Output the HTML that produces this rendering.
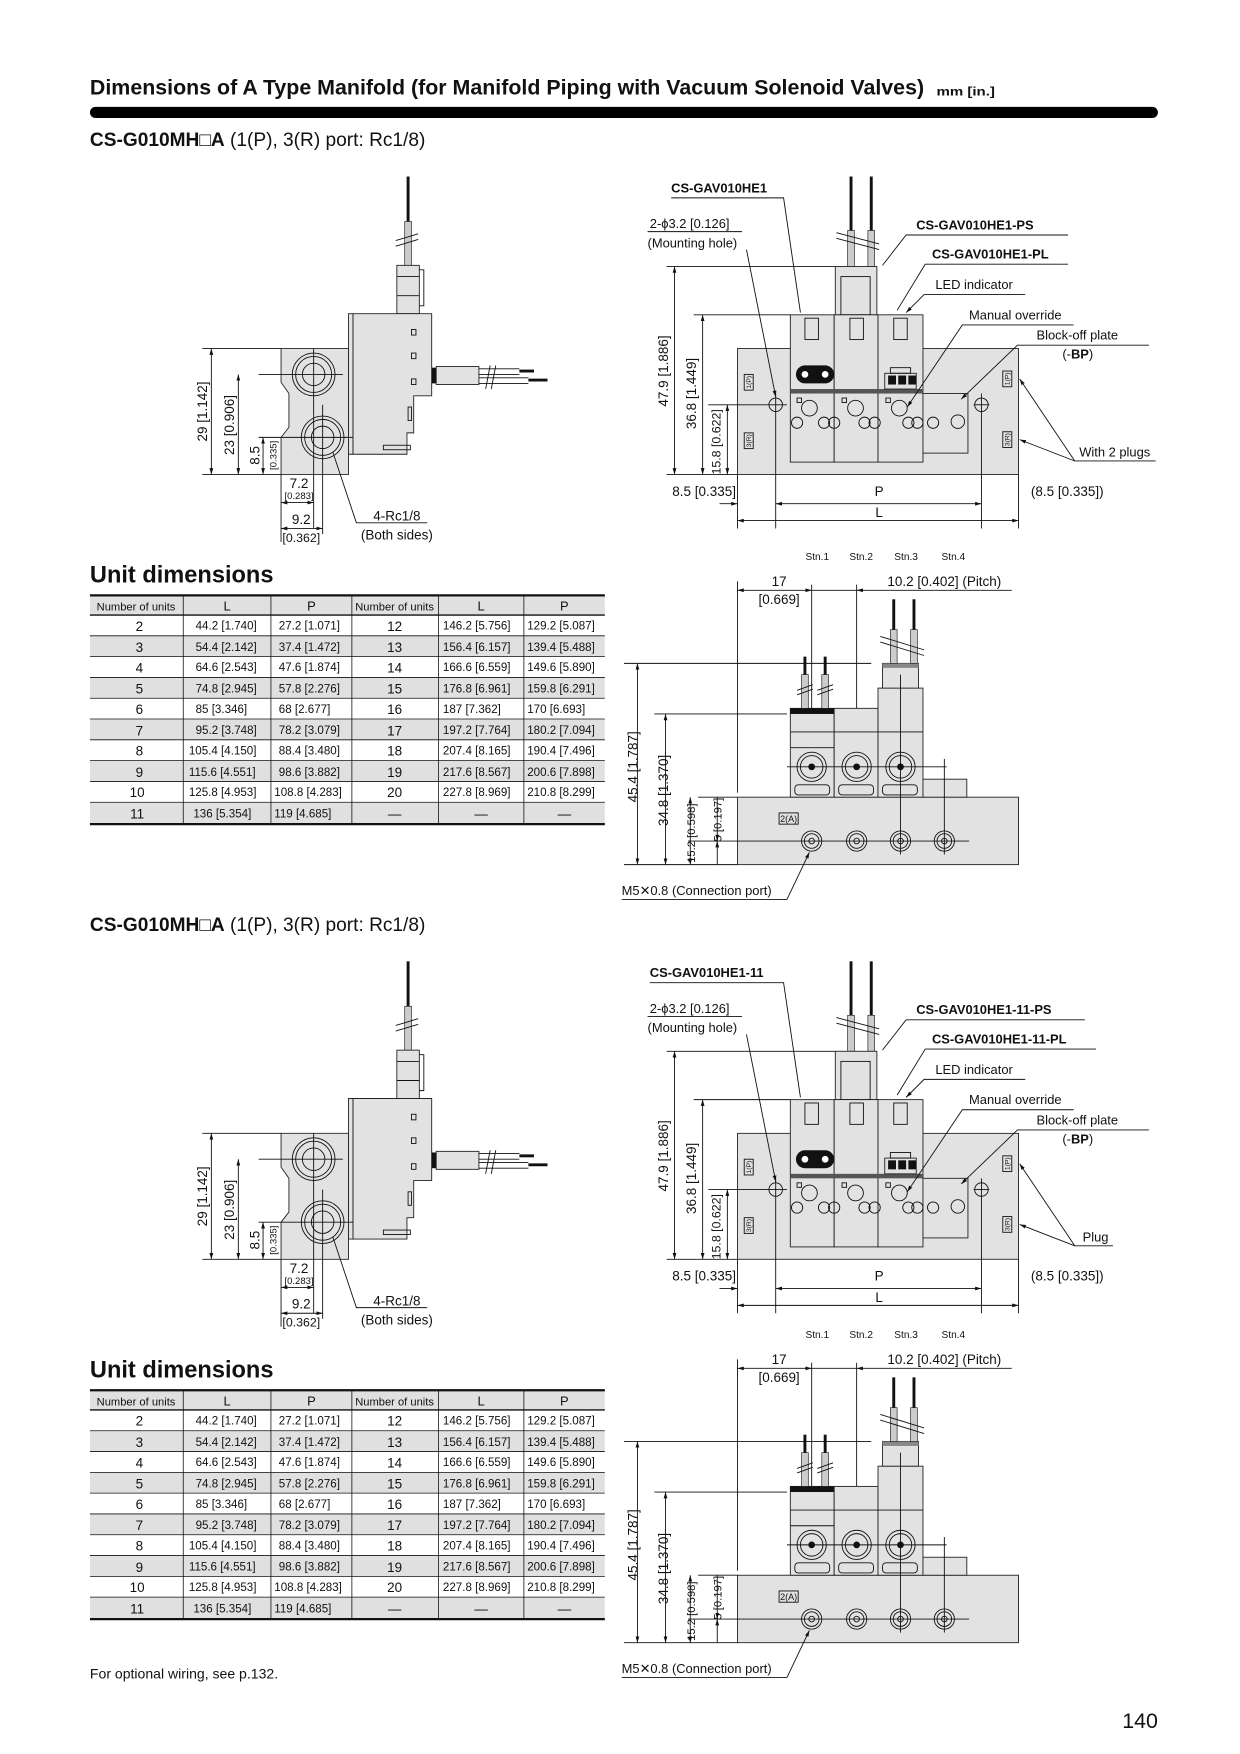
<!DOCTYPE html>
<html><head><meta charset="utf-8"><style>
html,body{margin:0;padding:0;background:#fff}
svg{display:block}
text{font-family:"Liberation Sans",sans-serif;fill:#111}
.b{font-weight:bold}
.ln{stroke:#111;stroke-width:0.8;fill:none}
.f{fill:#e2e2e2;stroke:#222;stroke-width:0.8}
.th{stroke:#111;stroke-width:2.6}
.gw{fill:#ccc;stroke:#222;stroke-width:0.6}
.tv text{font-size:10.3px}
</style></head><body>
<svg width="1240" height="1754" viewBox="0 0 1103 1560" preserveAspectRatio="none" xmlns="http://www.w3.org/2000/svg">
<defs>
<marker id="a" viewBox="0 0 10 10" refX="10" refY="5" markerWidth="7" markerHeight="7" orient="auto-start-reverse"><path d="M0 2 L10 5 L0 8 Z" fill="#111"/></marker>
</defs>

<text x="80" y="84" font-size="19" class="b" textLength="742" lengthAdjust="spacingAndGlyphs">Dimensions of A Type Manifold (for Manifold Piping with Vacuum Solenoid Valves)</text>
<text x="833" y="85" font-size="11" class="b" textLength="52" lengthAdjust="spacingAndGlyphs">mm [in.]</text>
<rect x="80" y="95" width="950" height="10" rx="5" fill="#000"/>

<g id="U">
<text x="80" y="130" font-size="17"><tspan class="b">CS-G010MH</tspan><tspan>□</tspan><tspan class="b">A</tspan> (1(P), 3(R) port: Rc1/8)</text>
<g>
<line x1="363" y1="157" x2="363" y2="197" class="th"/>
<rect x="360" y="197" width="6" height="40" class="gw"/>
<line x1="352" y1="214" x2="372" y2="208" class="ln"/><line x1="352" y1="219" x2="372" y2="213" class="ln"/>
<rect x="353" y="236" width="20" height="43" class="f"/>
<line x1="353" y1="246" x2="373" y2="246" class="ln"/><line x1="353" y1="263" x2="373" y2="263" class="ln"/>
<path d="M373 240 H377 V272 H373" class="ln"/>
<path d="M310 279 H384 V352 H368 V385 H362 V404 H310 Z" class="f"/>
<line x1="314" y1="279" x2="314" y2="404" class="ln"/>
<rect x="366" y="293" width="4" height="5" class="ln"/><rect x="366" y="314" width="4" height="5" class="ln"/><rect x="366" y="337" width="4" height="5" class="ln"/>
<rect x="363" y="362" width="3" height="12" class="ln"/>
<rect x="341" y="396" width="24" height="4" class="ln"/>
<path d="M250 310 H310 V422 H250 V389 L257 380 V350 L250 340 Z" class="f"/>
<circle cx="279" cy="333" r="19" class="ln"/><circle cx="279" cy="333" r="16" class="ln"/><circle cx="279" cy="333" r="10" class="ln"/>
<circle cx="287" cy="389" r="19" class="ln"/><circle cx="287" cy="389" r="16" class="ln"/><circle cx="287" cy="389" r="10" class="ln"/>
<line x1="279" y1="310" x2="279" y2="470" class="ln"/><line x1="287" y1="360" x2="287" y2="475" class="ln"/>
<line x1="230" y1="333" x2="305" y2="333" class="ln"/><line x1="230" y1="389" x2="314" y2="389" class="ln"/>
<rect x="384" y="327" width="4" height="14" fill="#111"/>
<rect x="388" y="326" width="38" height="16" class="f"/>
<line x1="426" y1="328" x2="462" y2="328" class="ln"/><line x1="426" y1="333" x2="462" y2="333" class="ln"/>
<line x1="426" y1="336" x2="470" y2="336" class="ln"/><line x1="426" y1="341" x2="470" y2="341" class="ln"/>
<line x1="462" y1="330" x2="475" y2="330" class="th"/><line x1="470" y1="338" x2="487" y2="338" class="th"/>
<line x1="432" y1="346" x2="436" y2="325" class="ln"/><line x1="437" y1="346" x2="441" y2="325" class="ln"/>
<line x1="180" y1="310" x2="250" y2="310" class="ln"/>
<line x1="180" y1="422" x2="250" y2="422" class="ln"/>
<line x1="188" y1="310" x2="188" y2="422" class="ln" marker-start="url(#a)" marker-end="url(#a)"/>
<line x1="212" y1="333" x2="212" y2="422" class="ln" marker-start="url(#a)" marker-end="url(#a)"/>
<line x1="234" y1="389" x2="234" y2="422" class="ln" marker-start="url(#a)" marker-end="url(#a)"/>
<text transform="translate(184,366) rotate(-90)" font-size="12" text-anchor="middle">29 [1.142]</text>
<text transform="translate(208,378) rotate(-90)" font-size="12" text-anchor="middle">23 [0.906]</text>
<text transform="translate(231,405) rotate(-90)" font-size="12" text-anchor="middle">8.5</text>
<text transform="translate(246,405) rotate(-90)" font-size="8.5" text-anchor="middle">[0.335]</text>
<line x1="250" y1="422" x2="250" y2="482" class="ln"/>
<line x1="250" y1="447" x2="279" y2="447" class="ln" marker-start="url(#a)" marker-end="url(#a)"/>
<line x1="250" y1="470" x2="287" y2="470" class="ln" marker-start="url(#a)" marker-end="url(#a)"/>
<text x="266" y="434" font-size="12" text-anchor="middle">7.2</text>
<text x="266" y="444" font-size="8.5" text-anchor="middle">[0.283]</text>
<text x="268" y="466" font-size="12" text-anchor="middle">9.2</text>
<text x="268" y="482" font-size="11" text-anchor="middle">[0.362]</text>
<polyline points="296,402 317,465 380,465" class="ln"/>
<text x="353" y="463" font-size="12" text-anchor="middle">4-Rc1/8</text>
<text x="353" y="480" font-size="12" text-anchor="middle">(Both sides)</text>
</g>
<g>
<line x1="757" y1="157" x2="757" y2="205" class="th"/><line x1="775" y1="157" x2="775" y2="205" class="th"/>
<rect x="754" y="205" width="6" height="32" class="gw"/><rect x="772" y="205" width="6" height="32" class="gw"/>
<line x1="744" y1="207" x2="782" y2="217" class="ln"/><line x1="744" y1="212" x2="782" y2="222" class="ln"/>
<rect x="656" y="310" width="250" height="112" class="f"/>
<rect x="743" y="237" width="37" height="43" class="f"/>
<rect x="748" y="246" width="26" height="34" class="ln"/>
<rect x="703" y="280" width="39" height="131" class="f"/>
<rect x="742" y="280" width="39" height="131" class="f"/>
<rect x="781" y="280" width="40" height="131" class="f"/>
<rect x="716" y="283" width="12" height="19" class="ln"/><rect x="756" y="283" width="12" height="19" class="ln"/><rect x="795" y="283" width="12" height="19" class="ln"/>
<rect x="703" y="346" width="118" height="4" fill="#555"/>
<rect x="708" y="325" width="34" height="16" rx="8" fill="#111"/>
<circle cx="716" cy="333" r="3" fill="#fff"/><circle cx="734" cy="333" r="3" fill="#fff"/>
<rect x="787" y="332" width="28" height="14" class="f"/>
<rect x="792" y="327" width="18" height="5" class="ln"/>
<rect x="790" y="334" width="7" height="8" fill="#111"/><rect x="799" y="334" width="7" height="8" fill="#111"/><rect x="808" y="334" width="7" height="8" fill="#111"/>
<rect x="821" y="350" width="40" height="53" class="f"/>
<g class="ln">
<circle cx="720" cy="363" r="7"/><circle cx="761" cy="363" r="7"/><circle cx="800" cy="363" r="7"/>
<circle cx="709" cy="376" r="5"/><circle cx="733" cy="376" r="5"/><circle cx="742" cy="376" r="5"/><circle cx="769" cy="376" r="5"/><circle cx="778" cy="376" r="5"/><circle cx="808" cy="376" r="5"/><circle cx="816" cy="376" r="5"/><circle cx="830" cy="376" r="5"/><circle cx="852" cy="375" r="6"/>
</g>
<rect x="709" y="354" width="4" height="4" class="ln"/><rect x="749" y="354" width="4" height="4" class="ln"/><rect x="788" y="354" width="4" height="4" class="ln"/>
<circle cx="690" cy="360" r="6" class="ln"/><circle cx="873" cy="360" r="6" class="ln"/>
<line x1="690" y1="350" x2="690" y2="470" class="ln"/><line x1="873" y1="350" x2="873" y2="470" class="ln"/>
<line x1="630" y1="360" x2="700" y2="360" class="ln"/><line x1="866" y1="360" x2="880" y2="360" class="ln"/>
<rect x="662" y="333" width="8" height="14" class="ln"/><text transform="translate(668,340) rotate(-90)" font-size="6" text-anchor="middle">1(P)</text>
<rect x="662" y="385" width="8" height="14" class="ln"/><text transform="translate(668,392) rotate(-90)" font-size="6" text-anchor="middle">3(R)</text>
<rect x="892" y="330" width="8" height="14" class="ln"/><text transform="translate(898,337) rotate(-90)" font-size="6" text-anchor="middle">1(P)</text>
<rect x="892" y="384" width="8" height="14" class="ln"/><text transform="translate(898,391) rotate(-90)" font-size="6" text-anchor="middle">3(R)</text>
<line x1="593" y1="237" x2="743" y2="237" class="ln"/>
<line x1="617" y1="280" x2="703" y2="280" class="ln"/>
<line x1="593" y1="422" x2="656" y2="422" class="ln"/>
<line x1="600" y1="237" x2="600" y2="422" class="ln" marker-start="url(#a)" marker-end="url(#a)"/>
<line x1="625" y1="280" x2="625" y2="422" class="ln" marker-start="url(#a)" marker-end="url(#a)"/>
<line x1="647" y1="360" x2="647" y2="422" class="ln" marker-start="url(#a)" marker-end="url(#a)"/>
<text transform="translate(594,330) rotate(-90)" font-size="12" text-anchor="middle">47.9 [1.886]</text>
<text transform="translate(619,350) rotate(-90)" font-size="12" text-anchor="middle">36.8 [1.449]</text>
<text transform="translate(641,393) rotate(-90)" font-size="11" text-anchor="middle">15.8 [0.622]</text>
<line x1="656" y1="422" x2="656" y2="470" class="ln"/><line x1="906" y1="422" x2="906" y2="470" class="ln"/>
<line x1="640" y1="448" x2="656" y2="448" class="ln" marker-end="url(#a)"/>
<line x1="690" y1="448" x2="873" y2="448" class="ln" marker-start="url(#a)" marker-end="url(#a)"/>
<line x1="656" y1="463" x2="906" y2="463" class="ln" marker-start="url(#a)" marker-end="url(#a)"/>
<text x="598" y="441" font-size="12">8.5 [0.335]</text>
<text x="782" y="441" font-size="12" text-anchor="middle">P</text>
<text x="917" y="441" font-size="12">(8.5 [0.335])</text>
<text x="782" y="460" font-size="12" text-anchor="middle">L</text>
<text x="597" y="171" font-size="11.5" class="b">CS-GAV010HE1</text>
<polyline points="597,176 697,176 712,278" class="ln"/>
<text x="578" y="203" font-size="11.5">2-ϕ3.2 [0.126]</text>
<text x="576" y="220" font-size="11.5">(Mounting hole)</text>
<line x1="576" y1="206" x2="660" y2="206" class="ln"/>
<line x1="664" y1="222" x2="690" y2="353" class="ln" marker-end="url(#a)"/>
<text x="815" y="204" font-size="11.5" class="b">CS-GAV010HE1-PS</text>
<polyline points="950,209 806,209 785,236" class="ln"/>
<text x="829" y="230" font-size="11.5" class="b">CS-GAV010HE1-PL</text>
<polyline points="950,235 823,235 798,276" class="ln"/>
<text x="832" y="257" font-size="11.5">LED indicator</text>
<polyline points="912,262 822,262 806,278" class="ln" marker-end="url(#a)"/>
<text x="862" y="284" font-size="11.5">Manual override</text>
<polyline points="955,289 856,289 807,362" class="ln" marker-end="url(#a)"/>
<text x="922" y="302" font-size="11.5">Block-off plate</text>
<text x="945" y="319" font-size="11.5">(-<tspan class="b">BP</tspan>)</text>
<polyline points="1022,307 905,307 855,355" class="ln" marker-end="url(#a)"/>
<text x="960" y="406" font-size="11.5">With 2 plugs</text>
<line x1="956" y1="410" x2="1028" y2="410" class="ln"/>
<line x1="956" y1="410" x2="907" y2="337" class="ln" marker-end="url(#a)"/>
<line x1="956" y1="410" x2="907" y2="391" class="ln" marker-end="url(#a)"/>
</g>
<g>
<text x="727" y="498" font-size="9" text-anchor="middle">Stn.1</text>
<text x="766" y="498" font-size="9" text-anchor="middle">Stn.2</text>
<text x="806" y="498" font-size="9" text-anchor="middle">Stn.3</text>
<text x="848" y="498" font-size="9" text-anchor="middle">Stn.4</text>
<text x="693" y="521" font-size="12" text-anchor="middle">17</text>
<text x="693" y="537" font-size="12" text-anchor="middle">[0.669]</text>
<text x="840" y="521" font-size="12" text-anchor="middle">10.2 [0.402] (Pitch)</text>
<line x1="656" y1="525" x2="722" y2="525" class="ln" marker-start="url(#a)" marker-end="url(#a)"/>
<line x1="722" y1="525" x2="762" y2="525" class="ln"/>
<line x1="762" y1="525" x2="900" y2="525" class="ln" marker-start="url(#a)"/>
<line x1="656" y1="517" x2="656" y2="705" class="ln"/>
<line x1="722" y1="520" x2="722" y2="760" class="ln"/>
<line x1="762" y1="520" x2="762" y2="760" class="ln"/>
<rect x="656" y="709" width="250" height="60" class="f"/>
<rect x="703" y="630" width="39" height="79" class="f"/>
<rect x="703" y="630" width="39" height="5" fill="#111"/>
<rect x="742" y="630" width="39" height="79" class="f"/>
<rect x="781" y="612" width="40" height="97" class="f"/>
<rect x="785" y="590" width="32" height="22" class="f"/>
<rect x="785" y="590" width="32" height="4" fill="#888"/>
<line x1="703" y1="651" x2="821" y2="651" class="ln"/>
<line x1="703" y1="665" x2="742" y2="665" class="ln"/>
<rect x="821" y="693" width="39" height="16" class="f"/>
<line x1="716" y1="584" x2="716" y2="600" class="th"/><line x1="734" y1="584" x2="734" y2="600" class="th"/>
<rect x="713" y="600" width="6" height="30" class="gw"/><rect x="731" y="600" width="6" height="30" class="gw"/>
<line x1="709" y1="614" x2="723" y2="609" class="ln"/><line x1="709" y1="618" x2="723" y2="613" class="ln"/>
<line x1="727" y1="614" x2="741" y2="609" class="ln"/><line x1="727" y1="618" x2="741" y2="613" class="ln"/>
<line x1="795" y1="533" x2="795" y2="560" class="th"/><line x1="813" y1="533" x2="813" y2="560" class="th"/>
<rect x="792" y="560" width="6" height="30" class="gw"/><rect x="810" y="560" width="6" height="30" class="gw"/>
<line x1="783" y1="566" x2="822" y2="578" class="ln"/><line x1="783" y1="571" x2="822" y2="583" class="ln"/>
<g class="ln">
<circle cx="722" cy="682" r="13"/><circle cx="722" cy="682" r="10"/>
<circle cx="762" cy="682" r="13"/><circle cx="762" cy="682" r="10"/>
<circle cx="801" cy="682" r="13"/><circle cx="801" cy="682" r="10"/>
<rect x="707" y="698" width="31" height="9" rx="3"/><rect x="746" y="698" width="31" height="9" rx="3"/><rect x="785" y="698" width="31" height="9" rx="3"/>
<circle cx="722" cy="748" r="9"/><circle cx="722" cy="748" r="6.5"/><circle cx="722" cy="748" r="2.5"/>
<circle cx="762" cy="748" r="9"/><circle cx="762" cy="748" r="6.5"/><circle cx="762" cy="748" r="2.5"/>
<circle cx="801" cy="748" r="9"/><circle cx="801" cy="748" r="6.5"/><circle cx="801" cy="748" r="2.5"/>
<circle cx="840" cy="748" r="9"/><circle cx="840" cy="748" r="6.5"/><circle cx="840" cy="748" r="2.5"/>
</g>
<circle cx="722" cy="682" r="3" fill="#111"/><circle cx="762" cy="682" r="3" fill="#111"/><circle cx="801" cy="682" r="3" fill="#111"/>
<line x1="700" y1="682" x2="842" y2="682" class="ln"/>
<line x1="801" y1="600" x2="801" y2="760" class="ln"/><line x1="840" y1="675" x2="840" y2="760" class="ln"/>
<line x1="612" y1="748" x2="862" y2="748" class="ln"/>
<rect x="693" y="723" width="17" height="10" class="ln"/><text x="701.5" y="731" font-size="8" text-anchor="middle">2(A)</text>
<line x1="555" y1="590" x2="775" y2="590" class="ln"/>
<line x1="582" y1="635" x2="700" y2="635" class="ln"/>
<line x1="555" y1="769" x2="656" y2="769" class="ln"/>
<line x1="621" y1="709" x2="656" y2="709" class="ln"/>
<line x1="567" y1="590" x2="567" y2="769" class="ln" marker-start="url(#a)" marker-end="url(#a)"/>
<line x1="592" y1="635" x2="592" y2="769" class="ln" marker-start="url(#a)" marker-end="url(#a)"/>
<line x1="614" y1="709" x2="614" y2="769" class="ln" marker-start="url(#a)" marker-end="url(#a)"/>
<line x1="638" y1="709" x2="638" y2="748" class="ln" marker-end="url(#a)"/>
<line x1="638" y1="769" x2="638" y2="748" class="ln" marker-end="url(#a)"/>
<text transform="translate(567,682) rotate(-90)" font-size="12" text-anchor="middle">45.4 [1.787]</text>
<text transform="translate(594,703) rotate(-90)" font-size="12" text-anchor="middle">34.8 [1.370]</text>
<text transform="translate(618,741) rotate(-90)" font-size="10" text-anchor="middle">15.2 [0.598]</text>
<text transform="translate(642,729) rotate(-90)" font-size="10" text-anchor="middle">5 [0.197]</text>
<text x="553" y="796" font-size="11.5">M5✕0.8 (Connection port)</text>
<line x1="553" y1="800" x2="700" y2="800" class="ln"/>
<line x1="700" y1="800" x2="720" y2="758" class="ln" marker-end="url(#a)"/>
</g>
</g>

<g id="T1">
<text x="80" y="518" font-size="21" class="b">Unit dimensions</text>
<rect x="80" y="530" width="458" height="17" fill="#e0e0e0"/>
<rect x="80" y="565.5" width="458" height="18.5" fill="#e0e0e0"/>
<rect x="80" y="602.5" width="458" height="18.5" fill="#e0e0e0"/>
<rect x="80" y="639.5" width="458" height="18.5" fill="#e0e0e0"/>
<rect x="80" y="676.5" width="458" height="18.5" fill="#e0e0e0"/>
<rect x="80" y="713.5" width="458" height="18.5" fill="#e0e0e0"/>
<line x1="80" y1="529.5" x2="538" y2="529.5" stroke="#111" stroke-width="2"/>
<line x1="80" y1="733" x2="538" y2="733" stroke="#111" stroke-width="2"/>
<g stroke="#111" stroke-width="0.7">
<line x1="80" y1="547" x2="538" y2="547" stroke-width="1.2"/>
<line x1="80" y1="565.5" x2="538" y2="565.5"/><line x1="80" y1="584" x2="538" y2="584"/><line x1="80" y1="602.5" x2="538" y2="602.5"/><line x1="80" y1="621" x2="538" y2="621"/><line x1="80" y1="639.5" x2="538" y2="639.5"/><line x1="80" y1="658" x2="538" y2="658"/><line x1="80" y1="676.5" x2="538" y2="676.5"/><line x1="80" y1="695" x2="538" y2="695"/><line x1="80" y1="713.5" x2="538" y2="713.5"/>
<line x1="163" y1="530" x2="163" y2="733"/><line x1="241" y1="530" x2="241" y2="733"/><line x1="313" y1="530" x2="313" y2="733"/><line x1="390" y1="530" x2="390" y2="733"/><line x1="466" y1="530" x2="466" y2="733"/>
</g>
<g font-size="11.5">
<text x="121" y="543" font-size="10" text-anchor="middle" textLength="70" lengthAdjust="spacingAndGlyphs">Number of units</text><text x="202" y="543" text-anchor="middle">L</text><text x="277" y="543" text-anchor="middle">P</text><text x="351" y="543" font-size="10" text-anchor="middle" textLength="70" lengthAdjust="spacingAndGlyphs">Number of units</text><text x="428" y="543" text-anchor="middle">L</text><text x="502" y="543" text-anchor="middle">P</text>
</g>
<g text-anchor="middle" font-size="12">
<text x="124" y="561">2</text><text x="124" y="580">3</text><text x="124" y="598">4</text><text x="124" y="617">5</text><text x="124" y="635">6</text><text x="124" y="654">7</text><text x="124" y="672">8</text><text x="124" y="691">9</text><text x="122" y="709">10</text><text x="122" y="728">11</text>
<text x="351" y="561">12</text><text x="351" y="580">13</text><text x="351" y="598">14</text><text x="351" y="617">15</text><text x="351" y="635">16</text><text x="351" y="654">17</text><text x="351" y="672">18</text><text x="351" y="691">19</text><text x="351" y="709">20</text><text x="351" y="728">—</text>
<text x="428" y="728">—</text><text x="502" y="728">—</text>
</g>
<g class="tv">
<text x="174" y="560">44.2 [1.740]</text><text x="174" y="579">54.4 [2.142]</text><text x="174" y="597">64.6 [2.543]</text><text x="174" y="616">74.8 [2.945]</text><text x="174" y="634">85 [3.346]</text><text x="174" y="653">95.2 [3.748]</text><text x="168" y="671">105.4 [4.150]</text><text x="168" y="690">115.6 [4.551]</text><text x="168" y="708">125.8 [4.953]</text><text x="172" y="727">136 [5.354]</text>
<text x="248" y="560">27.2 [1.071]</text><text x="248" y="579">37.4 [1.472]</text><text x="248" y="597">47.6 [1.874]</text><text x="248" y="616">57.8 [2.276]</text><text x="248" y="634">68 [2.677]</text><text x="248" y="653">78.2 [3.079]</text><text x="248" y="671">88.4 [3.480]</text><text x="248" y="690">98.6 [3.882]</text><text x="244" y="708">108.8 [4.283]</text><text x="244" y="727">119 [4.685]</text>
<text x="394" y="560">146.2 [5.756]</text><text x="394" y="579">156.4 [6.157]</text><text x="394" y="597">166.6 [6.559]</text><text x="394" y="616">176.8 [6.961]</text><text x="394" y="634">187 [7.362]</text><text x="394" y="653">197.2 [7.764]</text><text x="394" y="671">207.4 [8.165]</text><text x="394" y="690">217.6 [8.567]</text><text x="394" y="708">227.8 [8.969]</text>
<text x="469" y="560">129.2 [5.087]</text><text x="469" y="579">139.4 [5.488]</text><text x="469" y="597">149.6 [5.890]</text><text x="469" y="616">159.8 [6.291]</text><text x="469" y="634">170 [6.693]</text><text x="469" y="653">180.2 [7.094]</text><text x="469" y="671">190.4 [7.496]</text><text x="469" y="690">200.6 [7.898]</text><text x="469" y="708">210.8 [8.299]</text>
</g>
</g>

<!-- LOWER -->
<g transform="translate(0,698)">
<text x="80" y="130" font-size="17"><tspan class="b">CS-G010MH</tspan><tspan>□</tspan><tspan class="b">A</tspan> (1(P), 3(R) port: Rc1/8)</text>
<g>
<line x1="363" y1="157" x2="363" y2="197" class="th"/>
<rect x="360" y="197" width="6" height="40" class="gw"/>
<line x1="352" y1="214" x2="372" y2="208" class="ln"/><line x1="352" y1="219" x2="372" y2="213" class="ln"/>
<rect x="353" y="236" width="20" height="43" class="f"/>
<line x1="353" y1="246" x2="373" y2="246" class="ln"/><line x1="353" y1="263" x2="373" y2="263" class="ln"/>
<path d="M373 240 H377 V272 H373" class="ln"/>
<path d="M310 279 H384 V352 H368 V385 H362 V404 H310 Z" class="f"/>
<line x1="314" y1="279" x2="314" y2="404" class="ln"/>
<rect x="366" y="293" width="4" height="5" class="ln"/><rect x="366" y="314" width="4" height="5" class="ln"/><rect x="366" y="337" width="4" height="5" class="ln"/>
<rect x="363" y="362" width="3" height="12" class="ln"/>
<rect x="341" y="396" width="24" height="4" class="ln"/>
<path d="M250 310 H310 V422 H250 V389 L257 380 V350 L250 340 Z" class="f"/>
<circle cx="279" cy="333" r="19" class="ln"/><circle cx="279" cy="333" r="16" class="ln"/><circle cx="279" cy="333" r="10" class="ln"/>
<circle cx="287" cy="389" r="19" class="ln"/><circle cx="287" cy="389" r="16" class="ln"/><circle cx="287" cy="389" r="10" class="ln"/>
<line x1="279" y1="310" x2="279" y2="470" class="ln"/><line x1="287" y1="360" x2="287" y2="475" class="ln"/>
<line x1="230" y1="333" x2="305" y2="333" class="ln"/><line x1="230" y1="389" x2="314" y2="389" class="ln"/>
<rect x="384" y="327" width="4" height="14" fill="#111"/>
<rect x="388" y="326" width="38" height="16" class="f"/>
<line x1="426" y1="328" x2="462" y2="328" class="ln"/><line x1="426" y1="333" x2="462" y2="333" class="ln"/>
<line x1="426" y1="336" x2="470" y2="336" class="ln"/><line x1="426" y1="341" x2="470" y2="341" class="ln"/>
<line x1="462" y1="330" x2="475" y2="330" class="th"/><line x1="470" y1="338" x2="487" y2="338" class="th"/>
<line x1="432" y1="346" x2="436" y2="325" class="ln"/><line x1="437" y1="346" x2="441" y2="325" class="ln"/>
<line x1="180" y1="310" x2="250" y2="310" class="ln"/>
<line x1="180" y1="422" x2="250" y2="422" class="ln"/>
<line x1="188" y1="310" x2="188" y2="422" class="ln" marker-start="url(#a)" marker-end="url(#a)"/>
<line x1="212" y1="333" x2="212" y2="422" class="ln" marker-start="url(#a)" marker-end="url(#a)"/>
<line x1="234" y1="389" x2="234" y2="422" class="ln" marker-start="url(#a)" marker-end="url(#a)"/>
<text transform="translate(184,366) rotate(-90)" font-size="12" text-anchor="middle">29 [1.142]</text>
<text transform="translate(208,378) rotate(-90)" font-size="12" text-anchor="middle">23 [0.906]</text>
<text transform="translate(231,405) rotate(-90)" font-size="12" text-anchor="middle">8.5</text>
<text transform="translate(246,405) rotate(-90)" font-size="8.5" text-anchor="middle">[0.335]</text>
<line x1="250" y1="422" x2="250" y2="482" class="ln"/>
<line x1="250" y1="447" x2="279" y2="447" class="ln" marker-start="url(#a)" marker-end="url(#a)"/>
<line x1="250" y1="470" x2="287" y2="470" class="ln" marker-start="url(#a)" marker-end="url(#a)"/>
<text x="266" y="434" font-size="12" text-anchor="middle">7.2</text>
<text x="266" y="444" font-size="8.5" text-anchor="middle">[0.283]</text>
<text x="268" y="466" font-size="12" text-anchor="middle">9.2</text>
<text x="268" y="482" font-size="11" text-anchor="middle">[0.362]</text>
<polyline points="296,402 317,465 380,465" class="ln"/>
<text x="353" y="463" font-size="12" text-anchor="middle">4-Rc1/8</text>
<text x="353" y="480" font-size="12" text-anchor="middle">(Both sides)</text>
</g>
<g>
<line x1="757" y1="157" x2="757" y2="205" class="th"/><line x1="775" y1="157" x2="775" y2="205" class="th"/>
<rect x="754" y="205" width="6" height="32" class="gw"/><rect x="772" y="205" width="6" height="32" class="gw"/>
<line x1="744" y1="207" x2="782" y2="217" class="ln"/><line x1="744" y1="212" x2="782" y2="222" class="ln"/>
<rect x="656" y="310" width="250" height="112" class="f"/>
<rect x="743" y="237" width="37" height="43" class="f"/>
<rect x="748" y="246" width="26" height="34" class="ln"/>
<rect x="703" y="280" width="39" height="131" class="f"/>
<rect x="742" y="280" width="39" height="131" class="f"/>
<rect x="781" y="280" width="40" height="131" class="f"/>
<rect x="716" y="283" width="12" height="19" class="ln"/><rect x="756" y="283" width="12" height="19" class="ln"/><rect x="795" y="283" width="12" height="19" class="ln"/>
<rect x="703" y="346" width="118" height="4" fill="#555"/>
<rect x="708" y="325" width="34" height="16" rx="8" fill="#111"/>
<circle cx="716" cy="333" r="3" fill="#fff"/><circle cx="734" cy="333" r="3" fill="#fff"/>
<rect x="787" y="332" width="28" height="14" class="f"/>
<rect x="792" y="327" width="18" height="5" class="ln"/>
<rect x="790" y="334" width="7" height="8" fill="#111"/><rect x="799" y="334" width="7" height="8" fill="#111"/><rect x="808" y="334" width="7" height="8" fill="#111"/>
<rect x="821" y="350" width="40" height="53" class="f"/>
<g class="ln">
<circle cx="720" cy="363" r="7"/><circle cx="761" cy="363" r="7"/><circle cx="800" cy="363" r="7"/>
<circle cx="709" cy="376" r="5"/><circle cx="733" cy="376" r="5"/><circle cx="742" cy="376" r="5"/><circle cx="769" cy="376" r="5"/><circle cx="778" cy="376" r="5"/><circle cx="808" cy="376" r="5"/><circle cx="816" cy="376" r="5"/><circle cx="830" cy="376" r="5"/><circle cx="852" cy="375" r="6"/>
</g>
<rect x="709" y="354" width="4" height="4" class="ln"/><rect x="749" y="354" width="4" height="4" class="ln"/><rect x="788" y="354" width="4" height="4" class="ln"/>
<circle cx="690" cy="360" r="6" class="ln"/><circle cx="873" cy="360" r="6" class="ln"/>
<line x1="690" y1="350" x2="690" y2="470" class="ln"/><line x1="873" y1="350" x2="873" y2="470" class="ln"/>
<line x1="630" y1="360" x2="700" y2="360" class="ln"/><line x1="866" y1="360" x2="880" y2="360" class="ln"/>
<rect x="662" y="333" width="8" height="14" class="ln"/><text transform="translate(668,340) rotate(-90)" font-size="6" text-anchor="middle">1(P)</text>
<rect x="662" y="385" width="8" height="14" class="ln"/><text transform="translate(668,392) rotate(-90)" font-size="6" text-anchor="middle">3(R)</text>
<rect x="892" y="330" width="8" height="14" class="ln"/><text transform="translate(898,337) rotate(-90)" font-size="6" text-anchor="middle">1(P)</text>
<rect x="892" y="384" width="8" height="14" class="ln"/><text transform="translate(898,391) rotate(-90)" font-size="6" text-anchor="middle">3(R)</text>
<line x1="593" y1="237" x2="743" y2="237" class="ln"/>
<line x1="617" y1="280" x2="703" y2="280" class="ln"/>
<line x1="593" y1="422" x2="656" y2="422" class="ln"/>
<line x1="600" y1="237" x2="600" y2="422" class="ln" marker-start="url(#a)" marker-end="url(#a)"/>
<line x1="625" y1="280" x2="625" y2="422" class="ln" marker-start="url(#a)" marker-end="url(#a)"/>
<line x1="647" y1="360" x2="647" y2="422" class="ln" marker-start="url(#a)" marker-end="url(#a)"/>
<text transform="translate(594,330) rotate(-90)" font-size="12" text-anchor="middle">47.9 [1.886]</text>
<text transform="translate(619,350) rotate(-90)" font-size="12" text-anchor="middle">36.8 [1.449]</text>
<text transform="translate(641,393) rotate(-90)" font-size="11" text-anchor="middle">15.8 [0.622]</text>
<line x1="656" y1="422" x2="656" y2="470" class="ln"/><line x1="906" y1="422" x2="906" y2="470" class="ln"/>
<line x1="640" y1="448" x2="656" y2="448" class="ln" marker-end="url(#a)"/>
<line x1="690" y1="448" x2="873" y2="448" class="ln" marker-start="url(#a)" marker-end="url(#a)"/>
<line x1="656" y1="463" x2="906" y2="463" class="ln" marker-start="url(#a)" marker-end="url(#a)"/>
<text x="598" y="441" font-size="12">8.5 [0.335]</text>
<text x="782" y="441" font-size="12" text-anchor="middle">P</text>
<text x="917" y="441" font-size="12">(8.5 [0.335])</text>
<text x="782" y="460" font-size="12" text-anchor="middle">L</text>
<text x="578" y="171" font-size="11.5" class="b">CS-GAV010HE1-11</text>
<polyline points="578,176 697,176 712,278" class="ln"/>
<text x="578" y="203" font-size="11.5">2-ϕ3.2 [0.126]</text>
<text x="576" y="220" font-size="11.5">(Mounting hole)</text>
<line x1="576" y1="206" x2="660" y2="206" class="ln"/>
<line x1="664" y1="222" x2="690" y2="353" class="ln" marker-end="url(#a)"/>
<text x="815" y="204" font-size="11.5" class="b">CS-GAV010HE1-11-PS</text>
<polyline points="965,209 806,209 785,236" class="ln"/>
<text x="829" y="230" font-size="11.5" class="b">CS-GAV010HE1-11-PL</text>
<polyline points="975,235 823,235 798,276" class="ln"/>
<text x="832" y="257" font-size="11.5">LED indicator</text>
<polyline points="912,262 822,262 806,278" class="ln" marker-end="url(#a)"/>
<text x="862" y="284" font-size="11.5">Manual override</text>
<polyline points="955,289 856,289 807,362" class="ln" marker-end="url(#a)"/>
<text x="922" y="302" font-size="11.5">Block-off plate</text>
<text x="945" y="319" font-size="11.5">(-<tspan class="b">BP</tspan>)</text>
<polyline points="1022,307 905,307 855,355" class="ln" marker-end="url(#a)"/>
<text x="963" y="406" font-size="11.5">Plug</text>
<line x1="956" y1="410" x2="990" y2="410" class="ln"/>
<line x1="956" y1="410" x2="907" y2="337" class="ln" marker-end="url(#a)"/>
<line x1="956" y1="410" x2="907" y2="391" class="ln" marker-end="url(#a)"/>
</g>
</g>

<g transform="translate(0,692)">
<text x="727" y="498" font-size="9" text-anchor="middle">Stn.1</text>
<text x="766" y="498" font-size="9" text-anchor="middle">Stn.2</text>
<text x="806" y="498" font-size="9" text-anchor="middle">Stn.3</text>
<text x="848" y="498" font-size="9" text-anchor="middle">Stn.4</text>
<text x="693" y="521" font-size="12" text-anchor="middle">17</text>
<text x="693" y="537" font-size="12" text-anchor="middle">[0.669]</text>
<text x="840" y="521" font-size="12" text-anchor="middle">10.2 [0.402] (Pitch)</text>
<line x1="656" y1="525" x2="722" y2="525" class="ln" marker-start="url(#a)" marker-end="url(#a)"/>
<line x1="722" y1="525" x2="762" y2="525" class="ln"/>
<line x1="762" y1="525" x2="900" y2="525" class="ln" marker-start="url(#a)"/>
<line x1="656" y1="517" x2="656" y2="705" class="ln"/>
<line x1="722" y1="520" x2="722" y2="760" class="ln"/>
<line x1="762" y1="520" x2="762" y2="760" class="ln"/>
<rect x="656" y="709" width="250" height="60" class="f"/>
<rect x="703" y="630" width="39" height="79" class="f"/>
<rect x="703" y="630" width="39" height="5" fill="#111"/>
<rect x="742" y="630" width="39" height="79" class="f"/>
<rect x="781" y="612" width="40" height="97" class="f"/>
<rect x="785" y="590" width="32" height="22" class="f"/>
<rect x="785" y="590" width="32" height="4" fill="#888"/>
<line x1="703" y1="651" x2="821" y2="651" class="ln"/>
<line x1="703" y1="665" x2="742" y2="665" class="ln"/>
<rect x="821" y="693" width="39" height="16" class="f"/>
<line x1="716" y1="584" x2="716" y2="600" class="th"/><line x1="734" y1="584" x2="734" y2="600" class="th"/>
<rect x="713" y="600" width="6" height="30" class="gw"/><rect x="731" y="600" width="6" height="30" class="gw"/>
<line x1="709" y1="614" x2="723" y2="609" class="ln"/><line x1="709" y1="618" x2="723" y2="613" class="ln"/>
<line x1="727" y1="614" x2="741" y2="609" class="ln"/><line x1="727" y1="618" x2="741" y2="613" class="ln"/>
<line x1="795" y1="533" x2="795" y2="560" class="th"/><line x1="813" y1="533" x2="813" y2="560" class="th"/>
<rect x="792" y="560" width="6" height="30" class="gw"/><rect x="810" y="560" width="6" height="30" class="gw"/>
<line x1="783" y1="566" x2="822" y2="578" class="ln"/><line x1="783" y1="571" x2="822" y2="583" class="ln"/>
<g class="ln">
<circle cx="722" cy="682" r="13"/><circle cx="722" cy="682" r="10"/>
<circle cx="762" cy="682" r="13"/><circle cx="762" cy="682" r="10"/>
<circle cx="801" cy="682" r="13"/><circle cx="801" cy="682" r="10"/>
<rect x="707" y="698" width="31" height="9" rx="3"/><rect x="746" y="698" width="31" height="9" rx="3"/><rect x="785" y="698" width="31" height="9" rx="3"/>
<circle cx="722" cy="748" r="9"/><circle cx="722" cy="748" r="6.5"/><circle cx="722" cy="748" r="2.5"/>
<circle cx="762" cy="748" r="9"/><circle cx="762" cy="748" r="6.5"/><circle cx="762" cy="748" r="2.5"/>
<circle cx="801" cy="748" r="9"/><circle cx="801" cy="748" r="6.5"/><circle cx="801" cy="748" r="2.5"/>
<circle cx="840" cy="748" r="9"/><circle cx="840" cy="748" r="6.5"/><circle cx="840" cy="748" r="2.5"/>
</g>
<circle cx="722" cy="682" r="3" fill="#111"/><circle cx="762" cy="682" r="3" fill="#111"/><circle cx="801" cy="682" r="3" fill="#111"/>
<line x1="700" y1="682" x2="842" y2="682" class="ln"/>
<line x1="801" y1="600" x2="801" y2="760" class="ln"/><line x1="840" y1="675" x2="840" y2="760" class="ln"/>
<line x1="612" y1="748" x2="862" y2="748" class="ln"/>
<rect x="693" y="723" width="17" height="10" class="ln"/><text x="701.5" y="731" font-size="8" text-anchor="middle">2(A)</text>
<line x1="555" y1="590" x2="775" y2="590" class="ln"/>
<line x1="582" y1="635" x2="700" y2="635" class="ln"/>
<line x1="555" y1="769" x2="656" y2="769" class="ln"/>
<line x1="621" y1="709" x2="656" y2="709" class="ln"/>
<line x1="567" y1="590" x2="567" y2="769" class="ln" marker-start="url(#a)" marker-end="url(#a)"/>
<line x1="592" y1="635" x2="592" y2="769" class="ln" marker-start="url(#a)" marker-end="url(#a)"/>
<line x1="614" y1="709" x2="614" y2="769" class="ln" marker-start="url(#a)" marker-end="url(#a)"/>
<line x1="638" y1="709" x2="638" y2="748" class="ln" marker-end="url(#a)"/>
<line x1="638" y1="769" x2="638" y2="748" class="ln" marker-end="url(#a)"/>
<text transform="translate(567,682) rotate(-90)" font-size="12" text-anchor="middle">45.4 [1.787]</text>
<text transform="translate(594,703) rotate(-90)" font-size="12" text-anchor="middle">34.8 [1.370]</text>
<text transform="translate(618,741) rotate(-90)" font-size="10" text-anchor="middle">15.2 [0.598]</text>
<text transform="translate(642,729) rotate(-90)" font-size="10" text-anchor="middle">5 [0.197]</text>
<text x="553" y="796" font-size="11.5">M5✕0.8 (Connection port)</text>
<line x1="553" y1="800" x2="700" y2="800" class="ln"/>
<line x1="700" y1="800" x2="720" y2="758" class="ln" marker-end="url(#a)"/>
</g>

<g transform="translate(0,707)">
<text x="80" y="518" font-size="21" class="b">Unit dimensions</text>
<rect x="80" y="530" width="458" height="17" fill="#e0e0e0"/>
<rect x="80" y="565.5" width="458" height="18.5" fill="#e0e0e0"/>
<rect x="80" y="602.5" width="458" height="18.5" fill="#e0e0e0"/>
<rect x="80" y="639.5" width="458" height="18.5" fill="#e0e0e0"/>
<rect x="80" y="676.5" width="458" height="18.5" fill="#e0e0e0"/>
<rect x="80" y="713.5" width="458" height="18.5" fill="#e0e0e0"/>
<line x1="80" y1="529.5" x2="538" y2="529.5" stroke="#111" stroke-width="2"/>
<line x1="80" y1="733" x2="538" y2="733" stroke="#111" stroke-width="2"/>
<g stroke="#111" stroke-width="0.7">
<line x1="80" y1="547" x2="538" y2="547" stroke-width="1.2"/>
<line x1="80" y1="565.5" x2="538" y2="565.5"/><line x1="80" y1="584" x2="538" y2="584"/><line x1="80" y1="602.5" x2="538" y2="602.5"/><line x1="80" y1="621" x2="538" y2="621"/><line x1="80" y1="639.5" x2="538" y2="639.5"/><line x1="80" y1="658" x2="538" y2="658"/><line x1="80" y1="676.5" x2="538" y2="676.5"/><line x1="80" y1="695" x2="538" y2="695"/><line x1="80" y1="713.5" x2="538" y2="713.5"/>
<line x1="163" y1="530" x2="163" y2="733"/><line x1="241" y1="530" x2="241" y2="733"/><line x1="313" y1="530" x2="313" y2="733"/><line x1="390" y1="530" x2="390" y2="733"/><line x1="466" y1="530" x2="466" y2="733"/>
</g>
<g font-size="11.5">
<text x="121" y="543" font-size="10" text-anchor="middle" textLength="70" lengthAdjust="spacingAndGlyphs">Number of units</text><text x="202" y="543" text-anchor="middle">L</text><text x="277" y="543" text-anchor="middle">P</text><text x="351" y="543" font-size="10" text-anchor="middle" textLength="70" lengthAdjust="spacingAndGlyphs">Number of units</text><text x="428" y="543" text-anchor="middle">L</text><text x="502" y="543" text-anchor="middle">P</text>
</g>
<g text-anchor="middle" font-size="12">
<text x="124" y="561">2</text><text x="124" y="580">3</text><text x="124" y="598">4</text><text x="124" y="617">5</text><text x="124" y="635">6</text><text x="124" y="654">7</text><text x="124" y="672">8</text><text x="124" y="691">9</text><text x="122" y="709">10</text><text x="122" y="728">11</text>
<text x="351" y="561">12</text><text x="351" y="580">13</text><text x="351" y="598">14</text><text x="351" y="617">15</text><text x="351" y="635">16</text><text x="351" y="654">17</text><text x="351" y="672">18</text><text x="351" y="691">19</text><text x="351" y="709">20</text><text x="351" y="728">—</text>
<text x="428" y="728">—</text><text x="502" y="728">—</text>
</g>
<g class="tv">
<text x="174" y="560">44.2 [1.740]</text><text x="174" y="579">54.4 [2.142]</text><text x="174" y="597">64.6 [2.543]</text><text x="174" y="616">74.8 [2.945]</text><text x="174" y="634">85 [3.346]</text><text x="174" y="653">95.2 [3.748]</text><text x="168" y="671">105.4 [4.150]</text><text x="168" y="690">115.6 [4.551]</text><text x="168" y="708">125.8 [4.953]</text><text x="172" y="727">136 [5.354]</text>
<text x="248" y="560">27.2 [1.071]</text><text x="248" y="579">37.4 [1.472]</text><text x="248" y="597">47.6 [1.874]</text><text x="248" y="616">57.8 [2.276]</text><text x="248" y="634">68 [2.677]</text><text x="248" y="653">78.2 [3.079]</text><text x="248" y="671">88.4 [3.480]</text><text x="248" y="690">98.6 [3.882]</text><text x="244" y="708">108.8 [4.283]</text><text x="244" y="727">119 [4.685]</text>
<text x="394" y="560">146.2 [5.756]</text><text x="394" y="579">156.4 [6.157]</text><text x="394" y="597">166.6 [6.559]</text><text x="394" y="616">176.8 [6.961]</text><text x="394" y="634">187 [7.362]</text><text x="394" y="653">197.2 [7.764]</text><text x="394" y="671">207.4 [8.165]</text><text x="394" y="690">217.6 [8.567]</text><text x="394" y="708">227.8 [8.969]</text>
<text x="469" y="560">129.2 [5.087]</text><text x="469" y="579">139.4 [5.488]</text><text x="469" y="597">149.6 [5.890]</text><text x="469" y="616">159.8 [6.291]</text><text x="469" y="634">170 [6.693]</text><text x="469" y="653">180.2 [7.094]</text><text x="469" y="671">190.4 [7.496]</text><text x="469" y="690">200.6 [7.898]</text><text x="469" y="708">210.8 [8.299]</text>
</g>
</g>

<text x="80" y="1493" font-size="12.5">For optional wiring, see p.132.</text>
<text x="1030" y="1537" font-size="19" text-anchor="end">140</text>
</svg>
</body></html>
